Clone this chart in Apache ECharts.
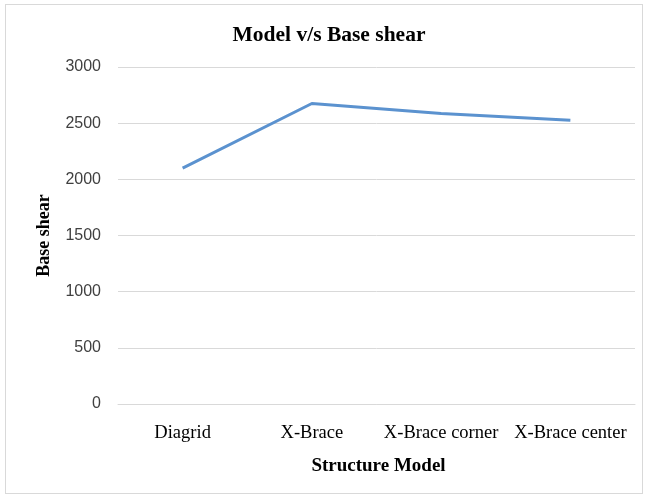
<!DOCTYPE html>
<html>
<head>
	<meta charset="UTF-8">
	<title>Model v/s Base shear</title>
	<script src="https://cdn.jsdelivr.net/npm/echarts@6/dist/echarts.min.js"></script>
	<style>
		html, body { margin: 0; padding: 0; background: #fff; }
		#frame { position: absolute; left: 5px; top: 4px; width: 636px; height: 488px; border: 1px solid #d9d9d9; }
		#main { position: absolute; left: 0; top: 0; width: 647px; height: 496px; }
	</style>
</head>
<body>
<div id="frame"></div>
<div id="main"></div>
<script type="text/javascript">
	var categories = ['Diagrid', 'X-Brace', 'X-Brace corner', 'X-Brace center'];
	var baseShear = [2100, 2675, 2585, 2525];

	var serif = '"Liberation Serif", "DejaVu Serif", serif';
	var sans = '"Liberation Sans", Arial, sans-serif';
	var myChart = echarts.init(document.getElementById('main'));

	var option = {
		backgroundColor: 'transparent',
		animation: false,
		title: {
			text: 'Model v/s Base shear',
			left: 324,
			textAlign: 'center',
			top: 19,
			textStyle: { fontFamily: serif, fontSize: 21.5, fontWeight: 'bold', color: '#000' }
		},
		grid: { left: 118, right: 12, top: 67, bottom: 92 },
		xAxis: {
			type: 'category',
			data: categories,
			name: 'Structure Model',
			nameLocation: 'middle',
			nameGap: 53,
			nameTextStyle: { fontFamily: serif, fontSize: 19, fontWeight: 'bold', color: '#000', padding: [0, 0, 0, 4] },
			axisLine: { lineStyle: { color: '#d9d9d9' } },
			axisTick: { show: false },
			axisLabel: { fontFamily: serif, fontSize: 18.5, color: '#000', margin: 20, interval: 0 }
		},
		yAxis: {
			type: 'value',
			min: 0,
			max: 3000,
			interval: 500,
			name: 'Base shear',
			nameLocation: 'middle',
			nameGap: 65,
			nameTextStyle: { fontFamily: serif, fontSize: 18, fontWeight: 'bold', color: '#000' },
			axisLine: { show: false },
			axisTick: { show: false },
			splitLine: { lineStyle: { color: '#d9d9d9' } },
			axisLabel: {
				fontFamily: sans, fontSize: 16, color: '#404040', margin: 17,
				formatter: function (v) { return String(v); }
			}
		},
		series: [{
			name: 'Base shear',
			type: 'line',
			data: baseShear,
			symbol: 'none',
			lineStyle: { color: '#5b92cf', width: 3 }
		}]
	};
	myChart.setOption(option);
</script>
</body>
</html>
